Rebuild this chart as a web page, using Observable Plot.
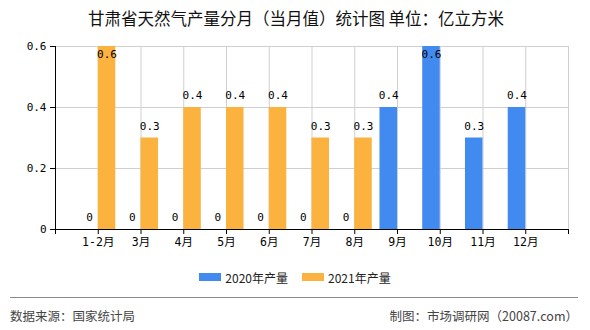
<!DOCTYPE html>
<html><head><meta charset="utf-8">
<script src="https://cdn.jsdelivr.net/npm/d3@7"></script>
<script src="https://cdn.jsdelivr.net/npm/@observablehq/plot@0.6"></script>
<style>
body{margin:0;background:#fff;font-family:"Noto Sans CJK SC",sans-serif;}
#wrap{width:590px;height:330px;position:relative;overflow:hidden;background:#fff}
#title{height:30px;line-height:36px;text-align:center;font-size:16.5px;color:#111;padding-left:2px}
#chart{height:230px}
#chart svg{display:block}
#legend{height:34px;display:flex;justify-content:center;align-items:center;font-size:12px;color:#222;gap:14px;padding-left:0px}
#legend .item{display:flex;align-items:center;gap:4px}
#legend .sw{width:22px;height:8px;display:inline-block}
#rule{position:absolute;left:10px;top:297px;width:568px;height:1px;background:#8a8a8a}
#footer{position:absolute;left:10px;top:306px;width:568px;display:flex;justify-content:space-between;font-size:12.5px;color:#444}
</style></head><body>
<div id="wrap">
<div id="title">甘肃省天然气产量分月（当月值）统计图 单位：亿立方米</div>
<div id="chart"></div>
<div id="legend"></div>
<div id="rule"></div>
<div id="footer"><span>数据来源：国家统计局</span><span>制图：市场调研网（20087.com）</span></div>
</div>
<script>
const months = ["1-2月","3月","4月","5月","6月","7月","8月","9月","10月","11月","12月"];
const prod2020 = [0,0,0,0,0,0,0,0.4,0.6,0.3,0.4];
const prod2021 = [0.6,0.3,0.4,0.4,0.4,0.3,0.3,null,null,null,null];
const yTicks = [0,0.2,0.4,0.6];
const seriesNames = ["2020年产量","2021年产量"];
const colors = ["#418AEF","#FBB23F"];

const rows = [];
months.forEach((m,i)=>{
  rows.push({pos:i+1, month:m, series:seriesNames[0], side:-1, value:prod2020[i]});
  rows.push({pos:i+1, month:m, series:seriesNames[1], side:0, value:prod2021[i]});
});
const data = rows.filter(d => d.value != null);
const w = 0.41;
const ymax = yTicks[yTicks.length-1];
const fmt = v => v === 0 ? "0" : v.toFixed(1);
const numFont = "'DejaVu Sans Mono','Noto Sans CJK SC',monospace";

const plot = Plot.plot({
  width:590, height:230, marginTop:16, marginBottom:31, marginLeft:55, marginRight:22,
  x:{type:"linear", domain:[0, months.length+1]},
  y:{domain:[0,ymax]},
  color:{domain:seriesNames, range:colors},
  style:{fontFamily:numFont, fontSize:"11px", color:"#000", background:"transparent"},
  marks:[
    Plot.ruleY(yTicks.filter(t=>t>0), {stroke:"#cfcfcf"}),
    Plot.ruleX(d3.range(1, months.length+2), {stroke:"#cfcfcf"}),
    Plot.rectY(data, {x1: d=>d.pos + d.side*w, x2: d=>d.pos+(d.side+1)*w, y1:0, y2:"value", fill:"series"}),
    Plot.text(data.filter(d=>d.value<ymax), {x: d=>d.pos+(d.side+0.5)*w, y:"value", text: d=>fmt(d.value), dy:-12, fill:"#000", fontSize:11}),
    Plot.text(data.filter(d=>d.value>=ymax), {x: d=>d.pos+(d.side+0.5)*w, y:"value", text: d=>fmt(d.value), dy:8, fill:"#000", fontSize:11}),
    Plot.axisX({ticks: d3.range(0, months.length+2), tickFormat: i => months[i-1] ?? "", tickSize:5, tickPadding:3, stroke:"#000", fontSize:11.5, label:null}),
    Plot.axisY({ticks:yTicks, tickFormat: fmt, tickSize:5, tickPadding:4, stroke:"#000", fontSize:11, label:null}),
    Plot.ruleY([0], {stroke:"#000"}),
    Plot.ruleX([0], {stroke:"#000"})
  ]
});
document.getElementById("chart").appendChild(plot);

const leg = document.getElementById("legend");
seriesNames.forEach((s,i)=>{
  const it = document.createElement("span"); it.className="item";
  const sw = document.createElement("span"); sw.className="sw"; sw.style.background = colors[i];
  const tx = document.createElement("span"); tx.textContent = s;
  it.appendChild(sw); it.appendChild(tx); leg.appendChild(it);
});
</script>
</body></html>
